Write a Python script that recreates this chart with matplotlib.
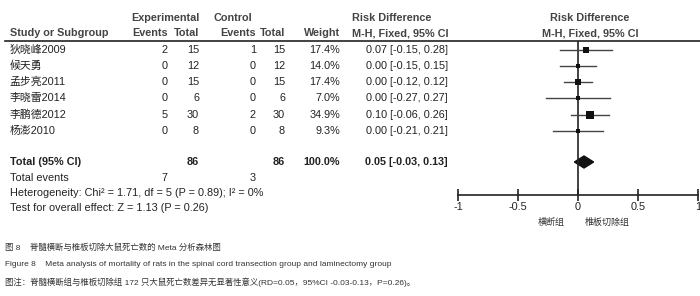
import numpy as np
import matplotlib
matplotlib.use('Agg')
import matplotlib.pyplot as plt

plt.rcParams['font.family'] = ['Liberation Sans', 'Noto Sans CJK SC', 'DejaVu Sans']

studies = ['狄晓峰2009', '候天勇', '孟步亮2011', '李晓雷2014', '李鹏德2012', '杨澎2010']
exp_events = [2, 0, 0, 0, 5, 0]
exp_total = [15, 12, 15, 6, 30, 8]
ctl_events = [1, 0, 0, 0, 2, 0]
ctl_total = [15, 12, 15, 6, 30, 8]
weights = [17.4, 14.0, 17.4, 7.0, 34.9, 9.3]
rd = [0.07, 0.00, 0.00, 0.00, 0.10, 0.00]
lo = [-0.15, -0.15, -0.12, -0.27, -0.06, -0.21]
hi = [0.28, 0.15, 0.12, 0.27, 0.26, 0.21]
total_rd, total_lo, total_hi = 0.05, -0.03, 0.13

W, H = 700, 296
fig = plt.figure(figsize=(7, 2.96), dpi=100)
ax = fig.add_axes([0, 0, 1, 1])
ax.set_xlim(0, W)
ax.set_ylim(H, 0)
ax.axis('off')

fs = 7.8
tc = '#222222'
hc = '#444444'
row_y = [50, 66, 82, 98, 115, 131]

# headers
ax.text(165, 18, 'Experimental', fontsize=fs, fontweight='bold', color=hc, ha='center', va='center')
ax.text(233, 18, 'Control', fontsize=fs, fontweight='bold', color=hc, ha='center', va='center')
ax.text(352, 18, 'Risk Difference', fontsize=fs, fontweight='bold', color=hc, ha='left', va='center')
ax.text(590, 18, 'Risk Difference', fontsize=fs, fontweight='bold', color=hc, ha='center', va='center')
ax.text(10, 33, 'Study or Subgroup', fontsize=fs, fontweight='bold', color=hc, ha='left', va='center')
for x, s in [(168, 'Events'), (199, 'Total'), (256, 'Events'), (285, 'Total'), (340, 'Weight')]:
    ax.text(x, 33, s, fontsize=fs, fontweight='bold', color=hc, ha='right', va='center')
ax.text(352, 33, 'M-H, Fixed, 95% CI', fontsize=fs, fontweight='bold', color=hc, ha='left', va='center')
ax.text(590, 33, 'M-H, Fixed, 95% CI', fontsize=fs, fontweight='bold', color=hc, ha='center', va='center')
ax.plot([5, 700], [41, 41], color='#222', lw=1.2)

for i, y in enumerate(row_y):
    ax.text(10, y, studies[i], fontsize=fs, color=tc, ha='left', va='center')
    ax.text(168, y, str(exp_events[i]), fontsize=fs, color=tc, ha='right', va='center')
    ax.text(199, y, str(exp_total[i]), fontsize=fs, color=tc, ha='right', va='center')
    ax.text(256, y, str(ctl_events[i]), fontsize=fs, color=tc, ha='right', va='center')
    ax.text(285, y, str(ctl_total[i]), fontsize=fs, color=tc, ha='right', va='center')
    ax.text(340, y, '%.1f%%' % weights[i], fontsize=fs, color=tc, ha='right', va='center')
    ax.text(448, y, '%.2f [%.2f, %.2f]' % (rd[i], lo[i], hi[i]), fontsize=fs, color=tc, ha='right', va='center')

ax.text(10, 162, 'Total (95% CI)', fontsize=fs, fontweight='bold', color=tc, ha='left', va='center')
ax.text(199, 162, str(sum(exp_total)), fontsize=fs, fontweight='bold', color=tc, ha='right', va='center')
ax.text(285, 162, str(sum(ctl_total)), fontsize=fs, fontweight='bold', color=tc, ha='right', va='center')
ax.text(340, 162, '100.0%', fontsize=fs, fontweight='bold', color=tc, ha='right', va='center')
ax.text(448, 162, '%.2f [%.2f, %.2f]' % (total_rd, total_lo, total_hi), fontsize=fs, fontweight='bold', color=tc, ha='right', va='center')
ax.text(10, 178, 'Total events', fontsize=fs, color=tc, ha='left', va='center')
ax.text(168, 178, str(sum(exp_events)), fontsize=fs, color=tc, ha='right', va='center')
ax.text(256, 178, str(sum(ctl_events)), fontsize=fs, color=tc, ha='right', va='center')
ax.text(10, 193, 'Heterogeneity: Chi² = 1.71, df = 5 (P = 0.89); I² = 0%', fontsize=fs, color=tc, ha='left', va='center')
ax.text(10, 208, 'Test for overall effect: Z = 1.13 (P = 0.26)', fontsize=fs, color=tc, ha='left', va='center')

# captions
cfs = 6.05
ax.text(5, 248, '图 8    脊髓横断与椎板切除大鼠死亡数的 Meta 分析森林图', fontsize=cfs, color='#333', ha='left', va='center')
ax.text(5, 265, 'Figure 8    Meta analysis of mortality of rats in the spinal cord transection group and laminectomy group',
        fontsize=cfs, color='#333', ha='left', va='center')
ax.text(5, 282, '图注：脊髓横断组与椎板切除组 172 只大鼠死亡数差异无显著性意义(RD=0.05，95%CI -0.03-0.13，P=0.26)。',
        fontsize=cfs, color='#333', ha='left', va='center')

# forest plot axes
fx = fig.add_axes([458 / W, 1 - 195 / H, 240 / W, 154 / H])
fx.set_xlim(-1, 1)
fx.set_ylim(195, 41)
fx.patch.set_alpha(0)
for s in ['top', 'left', 'right']:
    fx.spines[s].set_visible(False)
fx.spines['bottom'].set_color('#222')
fx.spines['bottom'].set_linewidth(1.2)
fx.set_yticks([])
fx.set_xticks([-1, -0.5, 0, 0.5, 1])
fx.set_xticklabels(['-1', '-0.5', '0', '0.5', '1'])
fx.tick_params(axis='x', direction='inout', length=8, width=1.2, labelsize=fs, colors='#222', pad=1)
fx.axvline(0, color='#222', lw=1.2)
for i, y in enumerate(row_y):
    fx.plot([lo[i], hi[i]], [y, y], color='#444', lw=1)
    fx.plot(rd[i], y, marker='s', color='#111', ms=0.95 * np.sqrt(weights[i]), mew=0)
fx.fill([total_lo, total_rd, total_hi, total_rd], [162, 156, 162, 168], color='#111')
fx.text(-0.22, 222, '横断组', fontsize=6.5, color='#333', ha='center', va='center', clip_on=False)
fx.text(0.24, 222, '椎板切除组', fontsize=6.5, color='#333', ha='center', va='center', clip_on=False)

fig.savefig('out.png', dpi=100)
